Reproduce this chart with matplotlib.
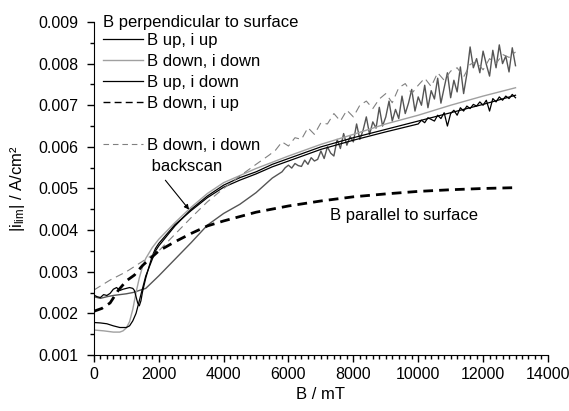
import matplotlib
matplotlib.use("Agg")
import matplotlib.pyplot as plt
from matplotlib.lines import Line2D
from matplotlib.ticker import MultipleLocator, FormatStrFormatter

plt.rcParams['font.family'] = ['Liberation Sans', 'DejaVu Sans']
plt.rcParams['mathtext.fontset'] = 'custom'
plt.rcParams['mathtext.rm'] = 'Liberation Sans'
plt.rcParams['mathtext.it'] = 'Liberation Sans'

# B up, i up (black, smooth)
b_upup = [0, 200, 400, 600, 800, 1000, 1100, 1200, 1300, 1400, 1500, 1600, 1700,
          1800, 1900, 2000, 2500, 3000, 3500, 4000, 4500, 5000, 5500, 6000, 7000,
          8000, 9000, 10000, 11000, 12000, 13000]
i_upup = [0.00178, 0.00177, 0.00175, 0.00170, 0.00166, 0.00166, 0.00170, 0.00182,
          0.00200, 0.00230, 0.00260, 0.00290, 0.00310, 0.00330, 0.00350, 0.00362,
          0.00410, 0.00450, 0.00482, 0.00508, 0.00526, 0.00540, 0.00558, 0.00572,
          0.00600, 0.00622, 0.00642, 0.00662, 0.00682, 0.00702, 0.00724]

# B down, i down (light grey)
b_dndn = [0, 300, 600, 800, 900, 1000, 1100, 1200, 1300, 1400, 1500, 1600, 1800,
          2000, 2500, 3000, 3500, 4000, 5000, 6000, 7000, 8000, 9000, 10000, 11000,
          12000, 13000]
i_dndn = [0.00160, 0.00158, 0.00155, 0.00155, 0.00158, 0.00165, 0.00180, 0.00210,
          0.00250, 0.00285, 0.00312, 0.00332, 0.00358, 0.00378, 0.00418, 0.00455,
          0.00488, 0.00514, 0.00548, 0.00578, 0.00606, 0.00630, 0.00655, 0.00676,
          0.00700, 0.00722, 0.00742]

# B up, i down (black, noisy at the end)
b_updn = [0, 100, 200, 300, 400, 500, 600, 700, 800, 900, 1000, 1100, 1200, 1250,
          1300, 1350, 1400, 1450, 1500, 1600, 1700, 1800, 1900, 2000, 2500, 3000,
          3500, 4000, 4500, 5000, 5500, 6000, 7000, 8000, 9000, 10000,
          10100, 10200, 10300, 10400, 10500, 10600, 10700, 10800, 10900, 11000,
          11100, 11200, 11300, 11400, 11500, 11600, 11700, 11800, 11900, 12000,
          12100, 12200, 12300, 12400, 12500, 12600, 12700, 12800, 12900, 13000]
i_updn = [0.00244, 0.00240, 0.00238, 0.00245, 0.00243, 0.00248, 0.00258, 0.00262,
          0.00255, 0.00258, 0.00260, 0.00262, 0.00260, 0.00255, 0.00240, 0.00225,
          0.00218, 0.00230, 0.00252, 0.00285, 0.00312, 0.00338, 0.00356, 0.00368,
          0.00413, 0.00447, 0.00478, 0.00503, 0.00520, 0.00535, 0.00552, 0.00566,
          0.00594, 0.00616, 0.00636, 0.00655,
          0.00664, 0.00658, 0.00670, 0.00666, 0.00662, 0.00676, 0.00668, 0.00682,
          0.00650, 0.00680, 0.00688, 0.00676, 0.00694, 0.00686, 0.00698, 0.00692,
          0.00702, 0.00698, 0.00708, 0.00700, 0.00712, 0.00686, 0.00716, 0.00708,
          0.00720, 0.00712, 0.00722, 0.00716, 0.00726, 0.00718]

# B down, i down, noisy dark grey run
b_noisy = [0, 200, 400, 600, 800, 1000, 1200, 1400, 1600, 1800, 2000, 2500, 3000,
           3500, 4000, 4500, 5000, 5500, 5800] + list(range(5900, 13001, 100))
i_noisy = [0.00240, 0.00236, 0.00240, 0.00243, 0.00245, 0.00247, 0.00250, 0.00255,
           0.00260, 0.00275, 0.00290, 0.00330, 0.00370, 0.00412, 0.00440, 0.00462,
           0.00490, 0.00525, 0.00540,
           0.00550, 0.00556, 0.00549, 0.00560, 0.00555, 0.00553, 0.00568, 0.00558,
           0.00574, 0.00566, 0.00570, 0.00590, 0.00572, 0.00600, 0.00585, 0.00578,
           0.00618, 0.00596, 0.00632, 0.00604, 0.00625, 0.00612, 0.00655, 0.00618,
           0.00640, 0.00672, 0.00630, 0.00660, 0.00645, 0.00695, 0.00650, 0.00672,
           0.00710, 0.00662, 0.00690, 0.00668, 0.00722, 0.00680, 0.00705, 0.00738,
           0.00686, 0.00720, 0.00700, 0.00748, 0.00694, 0.00735, 0.00715, 0.00765,
           0.00705, 0.00742, 0.00778, 0.00718, 0.00760, 0.00732, 0.00792, 0.00728,
           0.00775, 0.00840, 0.00790, 0.00812, 0.00778, 0.00830, 0.00798, 0.00770,
           0.00832, 0.00790, 0.00845, 0.00800, 0.00818, 0.00780, 0.00838, 0.00795]

# B down, i down backscan (grey dashed)
b_back = [0, 500, 1000, 1500, 2000, 2500, 3000, 3500, 4000, 4500, 5000, 5400] + \
         list(range(5600, 13001, 200))
i_back = [0.00256, 0.00280, 0.00300, 0.00325, 0.00350, 0.00390, 0.00430, 0.00468,
          0.00500, 0.00530, 0.00558, 0.00580,
          0.00592, 0.00612, 0.00602, 0.00622, 0.00618, 0.00646, 0.00630, 0.00658,
          0.00655, 0.00680, 0.00662, 0.00688, 0.00672, 0.00700, 0.00710, 0.00692,
          0.00715, 0.00728, 0.00706, 0.00742, 0.00752, 0.00728, 0.00748, 0.00765,
          0.00745, 0.00778, 0.00760, 0.00782, 0.00790, 0.00768, 0.00798, 0.00805,
          0.00785, 0.00812, 0.00800, 0.00822, 0.00815, 0.00828]

# B parallel to surface (thick black dashed)
b_par = [0, 250, 500, 750, 1000, 1250, 1500, 2000, 2500, 3000, 3500, 4000, 5000,
         6000, 7000, 8000, 9000, 10000, 11000, 12000, 13000]
i_par = [0.00205, 0.00212, 0.00225, 0.00255, 0.00278, 0.00292, 0.00315, 0.00350,
         0.00372, 0.00392, 0.00410, 0.00422, 0.00443, 0.00458, 0.00470, 0.00480,
         0.00487, 0.00493, 0.00497, 0.00500, 0.00502]

legend_labels = ["B up, i up", "B down, i down", "B up, i down", "B down, i up",
                 "", "B down, i down", " backscan"]

fig = plt.figure(figsize=(5.69, 4.11), dpi=100)
ax = fig.add_axes([0.165, 0.1363, 0.798, 0.8102])

ax.plot(b_noisy, i_noisy, color='#555555', lw=1.0)
ax.plot(b_dndn, i_dndn, color='#a0a0a0', lw=1.0)
ax.plot(b_upup, i_upup, color='black', lw=0.9)
ax.plot(b_updn, i_updn, color='black', lw=0.9)
ax.plot(b_back, i_back, color='#808080', lw=0.8, dashes=(7, 4.5))
ax.plot(b_par, i_par, color='black', lw=2.0, dashes=(3.5, 2.2))

ax.set_xlim(0, 14000)
ax.set_ylim(0.001, 0.009)
ax.xaxis.set_major_locator(MultipleLocator(2000))
ax.xaxis.set_minor_locator(MultipleLocator(200))
ax.yaxis.set_major_locator(MultipleLocator(0.001))
ax.yaxis.set_minor_locator(MultipleLocator(0.0005))
ax.yaxis.set_major_formatter(FormatStrFormatter('%.3f'))
ax.spines['top'].set_visible(False)
ax.spines['right'].set_visible(False)
ax.tick_params(which='major', direction='out', length=5, width=1, labelsize=11.5)
ax.tick_params(axis='y', which='major', pad=6)
ax.tick_params(which='minor', direction='out', length=3, width=1)

ax.set_xlabel("B / mT", fontsize=12)
ax.set_ylabel(r"|i$_{\mathrm{lim}}$| / A/cm²", fontsize=12, labelpad=8)

handles = [Line2D([], [], color='black', lw=0.9),
           Line2D([], [], color='#a0a0a0', lw=1.0),
           Line2D([], [], color='black', lw=0.9),
           Line2D([], [], color='black', lw=1.0, dashes=(5, 3)),
           Line2D([], [], color='none'),
           Line2D([], [], color='#808080', lw=0.8, dashes=(5, 3.5)),
           Line2D([], [], color='none')]
leg = ax.legend(handles, legend_labels, title="B perpendicular to surface",
                loc='upper left', bbox_to_anchor=(0.005, 1.04), frameon=False,
                fontsize=12, title_fontsize=12, alignment='left',
                handlelength=2.4, handletextpad=0.25, labelspacing=0.36,
                borderaxespad=0.0)
leg._legend_box.sep = 2

ax.annotate('', xy=(2990, 0.00444), xytext=(2150, 0.00525),
            arrowprops=dict(arrowstyle='-|>', color='black', lw=0.8,
                            mutation_scale=7))
ax.text(7270, 0.00436, "B parallel to surface", fontsize=12, va='center')

fig.savefig("out.png", dpi=100)
